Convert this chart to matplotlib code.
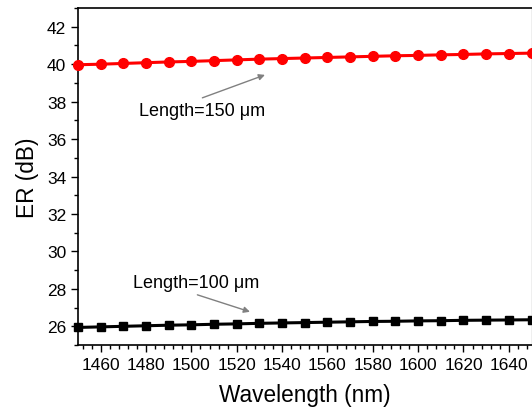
import matplotlib
matplotlib.use("Agg")
import matplotlib.pyplot as plt
from matplotlib.ticker import MultipleLocator

plt.rcParams["font.family"] = ["Liberation Sans", "DejaVu Sans"]

# extinction ratio vs wavelength for two device lengths
wavelength = [1450, 1460, 1470, 1480, 1490, 1500, 1510, 1520, 1530, 1540, 1550,
              1560, 1570, 1580, 1590, 1600, 1610, 1620, 1630, 1640, 1650]
er_150um = [39.97, 40.00, 40.04, 40.08, 40.12, 40.15, 40.19, 40.23, 40.27, 40.30, 40.33,
            40.36, 40.39, 40.42, 40.45, 40.47, 40.50, 40.52, 40.55, 40.57, 40.59]
er_100um = [25.94, 25.97, 26.00, 26.03, 26.06, 26.08, 26.11, 26.13, 26.16, 26.18, 26.20,
            26.22, 26.24, 26.26, 26.27, 26.29, 26.30, 26.32, 26.33, 26.34, 26.35]

fig = plt.figure(figsize=(5.32, 4.10), dpi=100)
ax = fig.add_axes([0.1466, 0.156, 0.8525, 0.822])

ax.plot(wavelength, er_150um, color="#ff0000", lw=2.2, marker="o", ms=7,
        clip_on=False, zorder=3)
ax.plot(wavelength, er_100um, color="black", lw=2.2, marker="s", ms=5.8,
        clip_on=False, zorder=3)

ax.set_xlim(1450, 1650)
ax.set_ylim(25, 43)
ax.xaxis.set_minor_locator(MultipleLocator(4))
ax.yaxis.set_minor_locator(MultipleLocator(1))
ax.set_xticks(range(1460, 1641, 20))
ax.set_yticks(range(26, 43, 2))

ax.tick_params(which="major", direction="out", length=5, width=1, labelsize=12.5)
ax.tick_params(which="minor", direction="out", length=3, width=1)
ax.tick_params(top=False, right=False)

for side in ["left", "bottom", "top"]:
    ax.spines[side].set_linewidth(1.2)
ax.spines["right"].set_color("#b0b0b0")
ax.spines["right"].set_linewidth(1)

ax.set_xlabel("Wavelength (nm)", fontsize=16.3, labelpad=8)
ax.set_ylabel("ER (dB)", fontsize=16.3, labelpad=6)

arrow = dict(arrowstyle="-|>", color="gray", lw=1, mutation_scale=9)
ax.annotate("Length=150 μm", xy=(1533.6, 39.48), xytext=(1477, 37.55),
            fontsize=13, va="center", ha="left", arrowprops=dict(arrow, relpos=(0.42, 1.0)))
ax.annotate("Length=100 μm", xy=(1527, 26.73), xytext=(1474.3, 28.33),
            fontsize=13, va="center", ha="left", arrowprops=dict(arrow, relpos=(0.42, 0.0)))

fig.savefig("out.png", dpi=100)
